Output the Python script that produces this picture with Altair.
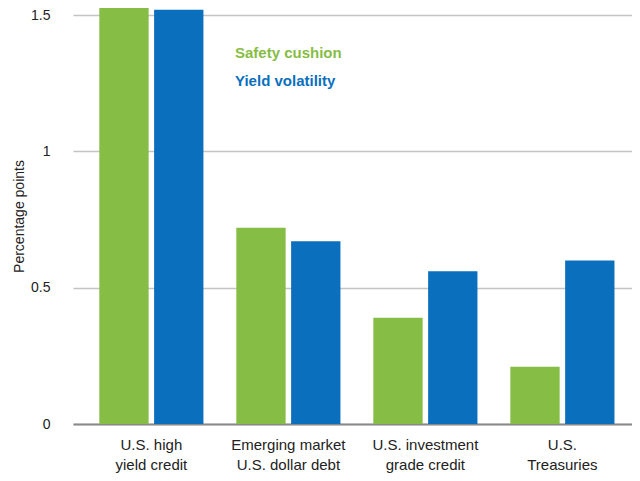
import altair as alt
import pandas as pd

categories = ["U.S. high\nyield credit", "Emerging market\nU.S. dollar debt",
              "U.S. investment\ngrade credit", "U.S.\nTreasuries"]
series = ["Safety cushion", "Yield volatility"]
safety_cushion = [1.60, 0.72, 0.39, 0.21]
yield_volatility = [1.52, 0.67, 0.56, 0.60]
colors = ["#86bd45", "#0a6fbd"]

rows = []
for c, a, b in zip(categories, safety_cushion, yield_volatility):
    rows.append({"category": c, "series": series[0], "value": a})
    rows.append({"category": c, "series": series[1], "value": b})
df = pd.DataFrame(rows)

font = "Liberation Sans"

chart = alt.Chart(df).mark_bar(clip=True).encode(
    x=alt.X("category:N", sort=categories, title=None,
            scale=alt.Scale(paddingInner=0.24, paddingOuter=0.16, align=0.6),
            axis=alt.Axis(labelAngle=0, labelExpr="split(datum.value, '\\n')",
                          labelFont=font, labelFontSize=15, labelColor="#222",
                          labelLineHeight=20, labelPadding=13, ticks=False,
                          domainColor="#8a8a8a", domainWidth=2)),
    xOffset=alt.XOffset("series:N", sort=series,
                        scale=alt.Scale(paddingInner=0.1, paddingOuter=0)),
    y=alt.Y("value:Q", title="Percentage points",
            scale=alt.Scale(domain=[0, 1.526], nice=False, zero=True),
            axis=alt.Axis(values=[0, 0.5, 1, 1.5], labelExpr="datum.value == 0 ? '0' : format(datum.value, '')",
                          labelFont=font, labelFontSize=14, labelColor="#222",
                          labelPadding=23, ticks=False, domain=False,
                          gridColor="#c4c4c4", gridWidth=1.5,
                          titleFont=font, titleFontSize=14, titleFontWeight="normal",
                          titleColor="#222", titlePadding=4)),
    color=alt.Color("series:N", sort=series,
                    scale=alt.Scale(domain=series, range=colors),
                    legend=alt.Legend(orient="none", legendX=147, legendY=37, title=None,
                                      symbolSize=0, symbolOpacity=0, symbolStrokeWidth=0,
                                      labelOffset=0, padding=0, rowPadding=12,
                                      labelFont=font, labelFontSize=15, labelFontWeight="bold",
                                      labelColor={"expr": "datum.value === 'Safety cushion' ? '#86bd45' : '#0a6fbd'"})),
).properties(
    width=559, height=416,
    autosize=alt.AutoSizeParams(type="none"),
    padding={"left": 65, "top": 0, "right": 0, "bottom": 57},
).configure_view(stroke=None)

chart.save("out.html", embed_options={"renderer": "svg", "actions": False})
